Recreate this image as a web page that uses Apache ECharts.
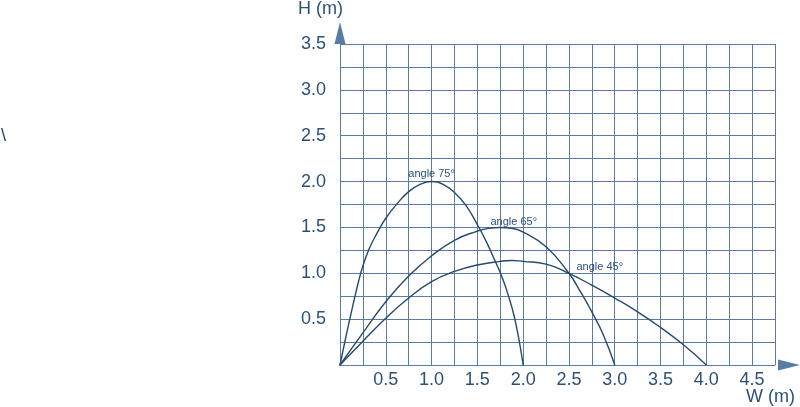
<!DOCTYPE html>
<html>
<head>
<meta charset="utf-8">
<script src="https://cdn.jsdelivr.net/npm/echarts@6/dist/echarts.min.js"></script>
<style>
html,body{margin:0;padding:0;background:#fff;}
#chart{width:800px;height:407px;}
</style>
</head>
<body>
<div id="chart"></div>
<script>
// Tick labels
var xTickLabels = ['0.5','1.0','1.5','2.0','2.5','3.0','3.5','4.0','4.5'];
var yTickLabels = ['0.5','1.0','1.5','2.0','2.5','3.0','3.5'];

// angle 75°
var x75 = [0, 0.05, 0.1, 0.15, 0.2, 0.25, 0.32, 0.4, 0.5, 0.625, 0.75, 0.875, 1.0,
           1.125, 1.25, 1.375, 1.5, 1.6, 1.7, 1.78, 1.85, 1.9, 1.95, 2.0];
var y75 = [0, 0.24, 0.47, 0.69, 0.9, 1.08, 1.27, 1.43, 1.6, 1.76, 1.89, 1.97, 2.0,
           1.97, 1.88, 1.74, 1.53, 1.34, 1.12, 0.93, 0.72, 0.54, 0.3, 0];
// angle 65°
var x65 = [0, 0.25, 0.5, 0.75, 1.0, 1.25, 1.5, 1.625, 1.75, 1.875, 2.0, 2.25, 2.5, 2.625, 2.75, 2.875, 3.0];
var y65 = [0, 0.35, 0.69, 0.97, 1.19, 1.36, 1.46, 1.49, 1.5, 1.49, 1.45, 1.29, 1.0, 0.8, 0.58, 0.33, 0];
// angle 45°
var x45 = [0, 0.25, 0.5, 0.75, 1.0, 1.25, 1.5, 1.75, 1.875, 2.0, 2.25, 2.5, 2.75, 3.0, 3.25, 3.5, 3.75, 4.0];
var y45 = [0, 0.26, 0.51, 0.73, 0.91, 1.02, 1.09, 1.13, 1.14, 1.13, 1.1, 1.0, 0.87, 0.73, 0.58, 0.41, 0.22, 0];

var seriesNames = ['angle 75°', 'angle 65°', 'angle 45°'];
// index of the point carrying each curve's label
var labelIdx = [12, 8, 11];

var lineColor = '#27496e';
var textColor = '#2d5078';
var gridColor = '#5a7ba6';

function pairs(xs, ys, li, name, lblCfg) {
  return xs.map(function (x, i) {
    var d = { value: [x, ys[i]] };
    if (i === li) {
      d.label = Object.assign({
        show: true, formatter: name, color: textColor,
        fontFamily: 'Liberation Sans', fontSize: 11
      }, lblCfg);
    }
    return d;
  });
}

var chart = echarts.init(document.getElementById('chart'), null, { renderer: 'canvas' });

function mkSeries(xs, ys, k, lblCfg) {
  return {
    type: 'line',
    name: seriesNames[k],
    data: pairs(xs, ys, labelIdx[k], seriesNames[k], lblCfg),
    smooth: 0.5,
    showSymbol: true,
    showAllSymbol: true,
    symbol: 'circle',
    symbolSize: 1,
    itemStyle: { color: lineColor },
    lineStyle: { color: lineColor, width: 1.4 },
    labelLayout: { hideOverlap: false },
    silent: true,
    z: 5
  };
}

chart.setOption({
  animation: false,
  backgroundColor: '#ffffff',
  title: {
    text: '\\',
    left: 1, top: 127, padding: 0,
    textStyle: { color: '#2b3f5c', fontSize: 18, fontWeight: 'normal', fontFamily: 'Liberation Sans' }
  },
  grid: { left: 340, right: 25, top: 44, bottom: 42, containLabel: false, outerBoundsMode: 'none' },
  xAxis: {
    type: 'value', min: 0, max: 4.75, interval: 0.25,
    name: 'W (m)', nameLocation: 'end', nameGap: 20, nameMoveOverlap: false,
    nameTextStyle: { color: textColor, fontSize: 18, fontFamily: 'Liberation Sans',
      align: 'right', verticalAlign: 'top', padding: [23, 0, 0, 0] },
    axisLine: { show: true, onZero: false, lineStyle: { color: gridColor, width: 1 },
      symbol: ['none', 'triangle'], symbolSize: [11, 22], symbolOffset: [0, 14] },
    axisTick: { show: false },
    axisLabel: {
      color: textColor, fontSize: 18, fontFamily: 'Liberation Sans', margin: 6,
      formatter: function (v) {
        var s = v.toFixed(1);
        return (Math.abs(v * 2 - Math.round(v * 2)) < 1e-6 && xTickLabels.indexOf(s) >= 0) ? s : '';
      }
    },
    splitLine: { show: true, lineStyle: { color: gridColor, width: 1 } }
  },
  yAxis: {
    type: 'value', min: 0, max: 3.5, interval: 0.25,
    name: 'H (m)', nameLocation: 'end', nameGap: 26, nameMoveOverlap: false,
    nameTextStyle: { color: textColor, fontSize: 18, fontFamily: 'Liberation Sans',
      align: 'right', verticalAlign: 'bottom', padding: [0, -3, 0, 0] },
    axisLine: { show: true, onZero: false, lineStyle: { color: gridColor, width: 1 },
      symbol: ['none', 'triangle'], symbolSize: [11, 22], symbolOffset: [0, 11] },
    axisTick: { show: false },
    axisLabel: {
      color: textColor, fontSize: 18, fontFamily: 'Liberation Sans', margin: 14,
      formatter: function (v) {
        var s = v.toFixed(1);
        return (Math.abs(v * 2 - Math.round(v * 2)) < 1e-6 && yTickLabels.indexOf(s) >= 0) ? s : '';
      }
    },
    splitLine: { show: true, lineStyle: { color: gridColor, width: 1 } }
  },
  series: [
    mkSeries(x75, y75, 0, { position: 'top', distance: 2 }),
    mkSeries(x65, y65, 1, { position: [14, 1], align: 'center', verticalAlign: 'bottom' }),
    mkSeries(x45, y45, 2, { position: [8, -6], align: 'left', verticalAlign: 'middle' })
  ]
});
</script>
</body>
</html>
